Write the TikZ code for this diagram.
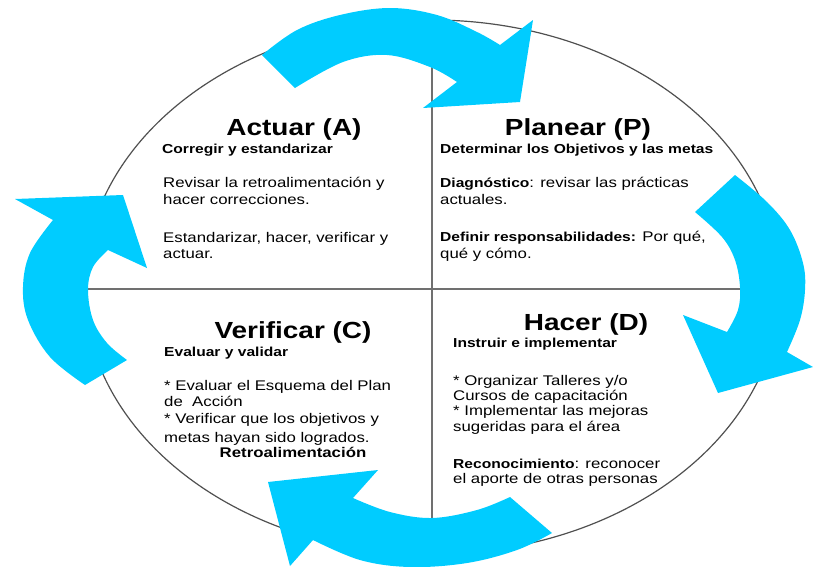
\documentclass[tikz,border=0pt]{standalone}
\usepackage{fontspec}
\setmainfont{Liberation Sans}
\newfontfamily\stf[FakeStretch=1.2]{Liberation Sans}
\definecolor{cyanA}{HTML}{00CCFF}
\definecolor{rimc}{HTML}{505050}
\definecolor{linec}{HTML}{707070}
\tikzset{
  ttl/.style={anchor=base,inner sep=0pt,font=\stf\bfseries\fontsize{23.3}{28}\selectfont},
  sub/.style={anchor=base west,inner sep=0pt,font=\stf\bfseries\fontsize{13}{16}\selectfont},
  body/.style={anchor=base west,inner sep=0pt,font=\stf\fontsize{14}{17}\selectfont},
  arrowc/.style={fill=cyanA}
}
\newcommand{\bbx}[1]{{\bfseries\fontsize{13}{16}\selectfont #1}}
\begin{document}
\begin{tikzpicture}[x=1pt,y=-1pt]
\useasboundingbox (0,0) rectangle (813,566);
% ellipse and axes
\draw[rimc,line width=1.2pt] (432,287) ellipse [x radius=348, y radius=267];
\coordinate (vt) at (432,20);
\coordinate (vb) at (432,554);
\coordinate (hl) at (84,289);
\coordinate (hr) at (780,289);
\draw[linec,line width=1.6pt] (vt) -- (vb);
\draw[linec,line width=1.6pt] (hl) -- (hr);
% top arrow
\fill[arrowc] plot[smooth,tension=0.6] coordinates {(262,55) (297,30) (340,15) (390,8) (437,15) (477,32) (500,45)}
  -- (533,20) -- (520,102) -- (423,108)
  -- plot[smooth,tension=0.6] coordinates {(457,82) (430,67) (387,55) (343,62) (295,88)} -- cycle;
% right arrow
\fill[arrowc] plot[smooth,tension=0.6] coordinates {(735,175) (767,202) (790,230) (803,263) (805,290) (800,320) (787,352)}
  -- (813,367) -- (718,393) -- (683,315)
  -- plot[smooth,tension=0.6] coordinates {(727,332) (738,310) (740,287) (735,260) (722,237) (695,212)} -- cycle;
% bottom arrow
\fill[arrowc] plot[smooth,tension=0.6] coordinates {(552,533) (517,550) (467,563) (410,567) (360,560) (313,540)}
  -- (290,566) -- (268,482) -- (378,470)
  -- plot[smooth,tension=0.6] coordinates {(353,498) (390,512) (432,518) (477,510) (510,497)} -- cycle;
% left arrow
\fill[arrowc] plot[smooth,tension=0.6] coordinates {(85,385) (50,357) (28,320) (23,287) (30,253) (53,220)}
  -- (15,199) -- (123,195) -- (147,268)
  -- plot[smooth,tension=0.6] coordinates {(108,250) (93,267) (88,290) (93,320) (107,343) (127,360)} -- cycle;
% Actuar
\node[ttl] (at) at (294,135) {Actuar (A)};
\node[sub] (as) at (162,153) {Corregir y estandarizar};
\node[body] (a1) at (163,187) {Revisar la retroalimentación y};
\node[body] (a2) at (163,204) {hacer correcciones.};
\node[body] (a3) at (163,242) {Estandarizar, hacer, verificar y};
\node[body] (a4) at (163,258) {actuar.};
% Planear
\node[ttl] (pt) at (578,135) {Planear (P)};
\node[sub] (ps) at (440,153) {Determinar los Objetivos y las metas};
\node[body] (p1) at (440,187) {\bbx{Diagnóstico}: revisar las prácticas};
\node[body] (p2) at (440,204) {actuales.};
\node[body] (p3) at (440,241) {\bbx{Definir responsabilidades:} Por qué,};
\node[body] (p4) at (440,258) {qué y cómo.};
% Verificar
\node[ttl] (vt1) at (293,338) {Verificar (C)};
\node[sub] (vs) at (164,356) {Evaluar y validar};
\node[body] (v1) at (164,390) {* Evaluar el Esquema del Plan};
\node[body] (v2) at (164,406) {de~ Acción};
\node[body] (v3) at (164,423) {* Verificar que los objetivos y};
\node[body] (v4) at (164,442) {metas hayan sido logrados.};
\node[anchor=base,inner sep=0pt,font=\stf\bfseries\fontsize{14}{17}\selectfont] (v5) at (293,457) {Retroalimentación};
% Hacer
\node[ttl] (ht) at (586,330) {Hacer (D)};
\node[sub] (hs) at (453,347) {Instruir e implementar};
\node[body] (h1) at (453,385) {* Organizar Talleres y/o};
\node[body] (h2) at (453,400) {Cursos de capacitación};
\node[body] (h3) at (453,415) {* Implementar las mejoras};
\node[body] (h4) at (453,431) {sugeridas para el área};
\node[body] (h5) at (453,468) {\bbx{Reconocimiento}: reconocer};
\node[body] (h6) at (453,483) {el aporte de otras personas};
\end{tikzpicture}
\end{document}
